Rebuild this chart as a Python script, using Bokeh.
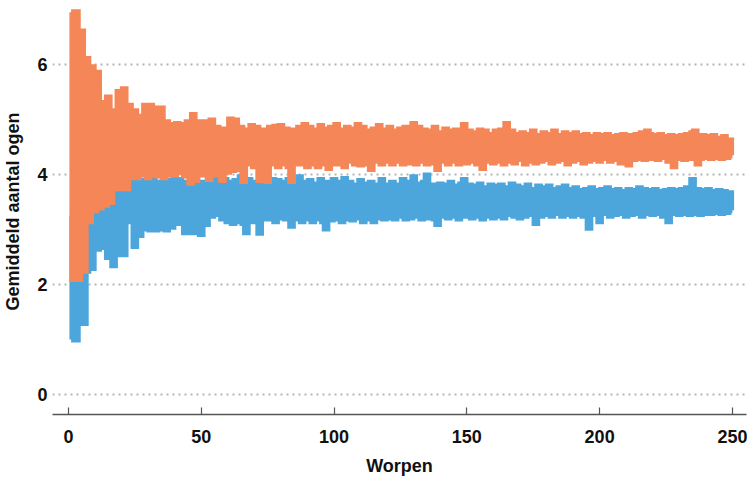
from bokeh.plotting import figure
from bokeh.models import Range1d, FixedTicker
from bokeh.embed import file_html
from bokeh.resources import INLINE

# Number of throws (x) and the average number of pips per series
worpen = list(range(1, 251))

oranje = [
    6.95, 2.10, 6.95, 2.10, 6.60, 2.25, 6.10, 3.15, 5.95, 3.35,
    5.85, 3.40, 5.30, 3.45, 5.40, 3.50, 5.15, 3.75, 5.50, 3.75,
    5.55, 3.75, 5.25, 3.95, 5.15, 3.95, 5.05, 4.00, 5.25, 3.95,
    5.25, 4.00, 5.20, 3.98, 5.20, 3.95, 4.95, 4.00, 4.90, 4.00,
    4.92, 4.05, 4.90, 3.98, 4.95, 3.85, 5.08, 3.90, 4.95, 4.00,
    4.95, 4.05, 3.92, 4.98, 4.00, 4.85, 4.10, 3.90, 4.82, 4.05,
    5.00, 4.08, 4.98, 4.10, 4.85, 3.88, 4.80, 4.20, 4.88, 4.15,
    4.85, 3.90, 4.80, 4.15, 3.88, 4.85, 4.20, 4.87, 4.15, 4.88,
    4.20, 4.82, 4.15, 3.88, 4.80, 4.20, 4.85, 4.20, 4.90, 4.15,
    4.85, 4.20, 4.80, 4.15, 4.88, 4.20, 4.82, 4.12, 4.85, 4.20,
    4.90, 4.20, 4.80, 4.15, 4.85, 4.25, 4.82, 4.20, 4.90, 4.18,
    4.85, 4.20, 4.78, 4.10, 4.82, 4.25, 4.88, 4.20, 4.80, 4.25,
    4.85, 4.20, 4.78, 4.25, 4.82, 4.20, 4.85, 4.22, 4.78, 4.92,
    4.20, 4.85, 4.25, 4.80, 4.20, 4.78, 4.22, 4.85, 4.10, 4.75,
    4.25, 4.82, 4.20, 4.78, 4.25, 4.80, 4.20, 4.75, 4.90, 4.22,
    4.78, 4.25, 4.75, 4.20, 4.80, 4.12, 4.78, 4.25, 4.72, 4.22,
    4.78, 4.25, 4.80, 4.20, 4.92, 4.25, 4.78, 4.22, 4.72, 4.28,
    4.75, 4.20, 4.72, 4.25, 4.78, 4.22, 4.70, 4.25, 4.75, 4.28,
    4.72, 4.22, 4.78, 4.25, 4.70, 4.28, 4.75, 4.20, 4.72, 4.25,
    4.75, 4.28, 4.70, 4.22, 4.72, 4.25, 4.68, 4.28, 4.72, 4.25,
    4.70, 4.30, 4.72, 4.25, 4.68, 4.28, 4.70, 4.22, 4.72, 4.30,
    4.18, 4.70, 4.28, 4.72, 4.30, 4.75, 4.28, 4.78, 4.72, 4.30,
    4.70, 4.28, 4.72, 4.32, 4.68, 4.25, 4.70, 4.15, 4.68, 4.30,
    4.70, 4.28, 4.72, 4.30, 4.75, 4.78, 4.20, 4.30, 4.70, 4.32,
    4.68, 4.30, 4.70, 4.32, 4.65, 4.30, 4.68, 4.32, 4.62, 4.35,
]

blauw = [
    1.00, 3.20, 1.00, 1.55, 3.60, 1.30, 2.25, 3.40, 2.30, 3.50,
    2.65, 3.70, 2.68, 3.50, 2.50, 3.85, 2.35, 3.70, 2.55, 3.80,
    2.55, 3.90, 3.15, 3.85, 2.70, 3.90, 2.90, 3.88, 3.02, 3.90,
    3.00, 3.92, 3.00, 3.85, 3.02, 3.90, 3.00, 3.88, 3.05, 3.92,
    3.12, 3.90, 3.13, 2.95, 3.85, 3.10, 2.95, 3.90, 3.20, 2.92,
    3.85, 3.10, 3.95, 3.25, 3.90, 3.28, 3.85, 3.20, 3.90, 3.15,
    3.85, 3.12, 3.88, 3.15, 3.95, 3.12, 2.95, 3.90, 3.15, 3.85,
    3.15, 2.94, 3.90, 3.20, 3.85, 3.20, 3.90, 3.15, 3.88, 3.22,
    3.85, 3.20, 3.90, 3.07, 3.82, 3.20, 3.95, 3.15, 3.85, 3.20,
    3.88, 3.15, 3.82, 3.20, 3.90, 3.15, 3.02, 3.85, 3.18, 3.90,
    3.20, 3.85, 3.15, 3.92, 3.20, 3.85, 3.18, 3.80, 3.22, 3.88,
    3.15, 3.82, 3.20, 3.85, 3.15, 3.80, 3.22, 3.90, 3.20, 3.80,
    3.22, 3.85, 3.20, 3.80, 3.25, 3.90, 3.20, 3.85, 3.22, 3.95,
    3.25, 3.82, 3.20, 3.85, 3.98, 3.22, 3.80, 3.20, 3.10, 3.82,
    3.25, 3.80, 3.22, 3.85, 3.25, 3.78, 3.20, 3.82, 3.90, 3.25,
    3.80, 3.22, 3.78, 3.25, 3.82, 3.20, 3.75, 3.25, 3.80, 3.22,
    3.78, 3.25, 3.80, 3.22, 3.75, 3.28, 3.82, 3.25, 3.78, 3.22,
    3.75, 3.25, 3.80, 3.28, 3.72, 3.12, 3.78, 3.25, 3.75, 3.28,
    3.78, 3.25, 3.72, 3.30, 3.75, 3.25, 3.78, 3.28, 3.72, 3.25,
    3.75, 3.28, 3.70, 3.25, 3.72, 3.03, 3.75, 3.28, 3.70, 3.15,
    3.72, 3.30, 3.75, 3.25, 3.70, 3.28, 3.72, 3.30, 3.68, 3.25,
    3.72, 3.28, 3.70, 3.30, 3.75, 3.25, 3.72, 3.30, 3.70, 3.28,
    3.72, 3.30, 3.68, 3.25, 3.70, 3.15, 3.72, 3.30, 3.70, 3.28,
    3.72, 3.30, 3.75, 3.28, 3.90, 3.30, 3.72, 3.28, 3.70, 3.30,
    3.72, 3.30, 3.68, 3.32, 3.70, 3.30, 3.68, 3.32, 3.66, 3.35,
]

x_ticks = [0, 50, 100, 150, 200, 250]
y_ticks = [0, 2, 4, 6]

FONT = "Liberation Sans"

p = figure(
    width=747, height=478,
    output_backend="svg", toolbar_location=None,
    x_range=Range1d(-6.0, 255.3), y_range=Range1d(-0.364, 7.018),
    min_border_left=52, min_border_right=1, min_border_top=8, min_border_bottom=64,
)
p.outline_line_color = None
p.background_fill_color = "white"

p.step(worpen, blauw, mode="center", line_width=6, line_color="#4da6db", line_join="miter")
p.step(worpen, oranje, mode="center", line_width=6, line_color="#f58657", line_join="miter")

# grid
p.xgrid.grid_line_color = None
p.ygrid.grid_line_color = "#b5b5b5"
p.ygrid.grid_line_width = 2
p.ygrid.grid_line_dash = "2 4"
p.ygrid.ticker = FixedTicker(ticks=y_ticks)

# x axis
p.xaxis.ticker = FixedTicker(ticks=x_ticks)
p.xaxis.axis_label = "Worpen"
p.xaxis.axis_line_color = "#555555"
p.xaxis.axis_line_width = 1.5
p.xaxis.major_tick_line_color = "#555555"
p.xaxis.major_tick_line_width = 1.2
p.xaxis.major_tick_in = 7
p.xaxis.major_tick_out = 0
p.xaxis.minor_tick_line_color = None
p.xaxis.major_label_standoff = 15
p.xaxis.axis_label_standoff = 10

# y axis
p.yaxis.ticker = FixedTicker(ticks=y_ticks)
p.yaxis.axis_label = "Gemiddeld aantal ogen"
p.yaxis.axis_line_color = None
p.yaxis.major_tick_line_color = None
p.yaxis.minor_tick_line_color = None
p.yaxis.major_tick_in = 0
p.yaxis.major_tick_out = 0
p.yaxis.major_label_standoff = 5
p.yaxis.axis_label_standoff = 11

for ax in (p.xaxis[0], p.yaxis[0]):
    ax.major_label_text_font = FONT
    ax.major_label_text_font_style = "bold"
    ax.major_label_text_font_size = "18px"
    ax.major_label_text_color = "#111111"
    ax.axis_label_text_font = FONT
    ax.axis_label_text_font_style = "bold"
    ax.axis_label_text_font_size = "18px"
    ax.axis_label_text_color = "#111111"

open("out.html", "w").write(file_html(p, INLINE))
